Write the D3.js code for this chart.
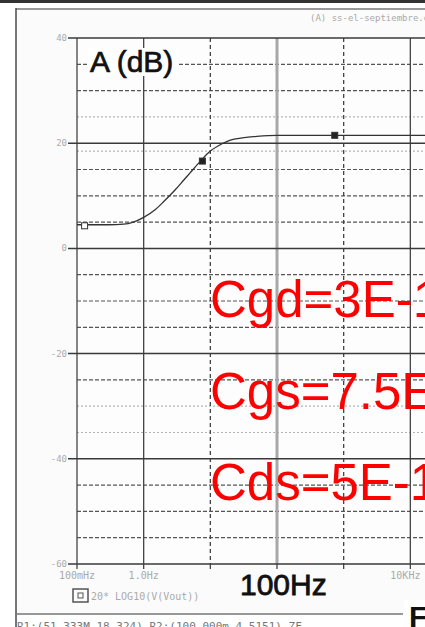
<!DOCTYPE html>
<html>
<head>
<meta charset="utf-8">
<script src="https://cdn.jsdelivr.net/npm/d3@7"></script>
<style>
  body { margin: 0; background: #fff; overflow: hidden; }
  svg { display: block; }
</style>
</head>
<body>
<div id="chart"></div>
<script>
// Trace 20*LOG10(V(Vout))
const freqs = [0.1, 0.3, 0.5, 0.7, 1, 1.5, 2, 3, 4, 5, 7, 10, 15, 20, 30, 50, 100, 1000, 10000, 100000];
const gainDb = [4.5, 4.5, 4.6, 5.0, 5.9, 7.4, 8.9, 11.2, 13.0, 14.4, 16.5, 18.5, 19.9, 20.6, 21.0, 21.3, 21.5, 21.5, 21.5, 21.5];

// trace symbols
const markerFreqs = [0.13, 7.6, 735];
const markerDb = [4.3, 16.6, 21.5];
const markerOpen = [true, false, false];

// x grid (decades)
const decadeTicks = [0.1, 1, 10, 100, 1000, 10000];
const decadeStyles = ['solid', 'solid', 'dash', 'thick', 'dash', 'solid'];
const xTickLabels = ['100mHz', '1.0Hz', '', '', '', '10KHz'];

// y grid
const majorDb = [40, 20, 0, -20, -40, -60];
const majorLabels = ['40', '20', '0', '-20', '-40', '-60'];
const minorDb = [35, 30, 25, 18.5, 15, 10, 5, -5, -10, -15, -25, -30, -35, -45, -50, -55];
const minorLight = [25, 18.5, -30, -35];

const annotations = ['Cgd=3E-12', 'Cgs=7.5E-12', 'Cds=5E-12'];

const W = 425, H = 627;
const plot = { left: 77, top: 38, bottom: 564, right: 477 };

const svg = d3.select('#chart').append('svg')
  .attr('width', W).attr('height', H)
  .attr('viewBox', `0 0 ${W} ${H}`);

const x = d3.scaleLog().domain([0.1, 100000]).range([plot.left, plot.right]);
const y = d3.scaleLinear().domain([-60, 40]).range([plot.bottom, plot.top]);

// window frame
svg.append('rect').attr('x', 0).attr('y', 0).attr('width', W).attr('height', H).attr('fill', '#fff');
svg.append('rect').attr('x', 16).attr('y', 9).attr('width', W).attr('height', 605).attr('fill', '#fbfbfb');
svg.append('line').attr('x1', 0).attr('x2', W).attr('y1', 1.5).attr('y2', 1.5)
  .attr('stroke', '#333').attr('stroke-width', 3);
svg.append('line').attr('x1', 16).attr('x2', W).attr('y1', 9).attr('y2', 9)
  .attr('stroke', '#999').attr('stroke-width', 2);
svg.append('line').attr('x1', 16).attr('x2', 16).attr('y1', 8).attr('y2', H)
  .attr('stroke', '#555').attr('stroke-width', 1.6);
svg.append('line').attr('x1', 16).attr('x2', 403).attr('y1', 614).attr('y2', 614)
  .attr('stroke', '#777').attr('stroke-width', 1.5);

svg.append('text').attr('x', 310).attr('y', 21)
  .style('font-family', 'DejaVu Sans Mono').style('font-size', '9px').attr('fill', '#aaa')
  .text('(A) ss-el-septiembre.dat (active)');

// plot background
svg.append('rect').attr('x', plot.left).attr('y', plot.top)
  .attr('width', W - plot.left).attr('height', plot.bottom - plot.top).attr('fill', '#fdfdfd');

const grid = svg.append('g');

// minor horizontal lines (5 dB)
grid.selectAll('.minor').data(minorDb).enter().append('line')
  .attr('x1', plot.left).attr('x2', W)
  .attr('y1', d => y(d)).attr('y2', d => y(d))
  .attr('stroke', d => minorLight.includes(d) ? '#b5b5b5' : '#555')
  .attr('stroke-width', 1.2)
  .attr('stroke-dasharray', d => minorLight.includes(d) ? '2,2' : '4,2');

// vertical decade lines
grid.selectAll('.vline').data(decadeTicks).enter().append('line')
  .attr('x1', d => x(d)).attr('x2', d => x(d))
  .attr('y1', plot.top).attr('y2', plot.bottom)
  .attr('stroke', (d, i) => decadeStyles[i] === 'thick' ? '#a8a8a8' : '#444')
  .attr('stroke-width', (d, i) => decadeStyles[i] === 'thick' ? 3 : 1.3)
  .attr('stroke-dasharray', (d, i) => decadeStyles[i] === 'dash' ? '4,3' : null);

// major horizontal lines + ticks
grid.selectAll('.major').data(majorDb).enter().append('line')
  .attr('x1', plot.left - 9).attr('x2', W)
  .attr('y1', d => y(d)).attr('y2', d => y(d))
  .attr('stroke', '#3a3a3a').attr('stroke-width', 1.5);

grid.selectAll('.ylab').data(majorDb).enter().append('text')
  .attr('x', plot.left - 10).attr('y', d => y(d) + 3)
  .attr('text-anchor', 'end')
  .style('font-family', 'DejaVu Sans Mono').style('font-size', '9px').attr('fill', '#aaa')
  .text((d, i) => majorLabels[i]);

// x ticks below the axis
grid.selectAll('.xtick').data(decadeTicks).enter().append('line')
  .attr('x1', d => x(d)).attr('x2', d => x(d))
  .attr('y1', plot.bottom).attr('y2', plot.bottom + 5)
  .attr('stroke', '#444').attr('stroke-width', 1.3);

grid.selectAll('.xlab').data(decadeTicks).enter().append('text')
  .attr('x', d => x(d)).attr('y', plot.bottom + 15)
  .attr('text-anchor', (d, i) => i === decadeTicks.length - 1 ? 'start' : 'middle')
  .attr('dx', (d, i) => i === decadeTicks.length - 1 ? -20 : 0)
  .style('font-family', 'DejaVu Sans Mono').style('font-size', '10px').attr('fill', '#aaa')
  .text((d, i) => xTickLabels[i]);

// trace
const line = d3.line().x(d => x(d[0])).y(d => y(d[1])).curve(d3.curveMonotoneX);
svg.append('path')
  .datum(freqs.map((f, i) => [f, gainDb[i]]))
  .attr('d', line)
  .attr('fill', 'none').attr('stroke', '#333').attr('stroke-width', 1.3);

svg.selectAll('.mark').data(markerFreqs).enter().append('rect')
  .attr('x', d => x(d) - 3).attr('y', (d, i) => y(markerDb[i]) - 3)
  .attr('width', 6).attr('height', 6)
  .attr('fill', (d, i) => markerOpen[i] ? '#fff' : '#222')
  .attr('stroke', '#333').attr('stroke-width', 1);

// legend
svg.append('rect').attr('x', 73).attr('y', 589).attr('width', 15).attr('height', 13)
  .attr('fill', 'none').attr('stroke', '#555').attr('stroke-width', 1.5);
svg.append('rect').attr('x', 78).attr('y', 593).attr('width', 5).attr('height', 5)
  .attr('fill', 'none').attr('stroke', '#555').attr('stroke-width', 1);
svg.append('text').attr('x', 91).attr('y', 600)
  .style('font-family', 'DejaVu Sans Mono').style('font-size', '10px').attr('fill', '#aaa')
  .text('20* LOG10(V(Vout))');

// cursor readout, cut by the window edge
svg.append('text').attr('x', 17).attr('y', 630)
  .style('font-family', 'DejaVu Sans Mono').style('font-size', '11px').attr('fill', '#777')
  .text('R1:(51.333M,18.324)  R2:(100.000m,4.5151)  ZF...');

// overlaid labels
svg.append('rect').attr('x', 88).attr('y', 48).attr('width', 90).attr('height', 28).attr('fill', '#fff');
svg.append('text').attr('x', 90).attr('y', 72)
  .style('font-family', 'Liberation Sans, Arial').style('font-size', '30px')
  .attr('fill', '#111').attr('stroke', '#111').attr('stroke-width', 0.7)
  .text('A (dB)');

svg.append('text').attr('x', 240).attr('y', 595)
  .style('font-family', 'Liberation Sans, Arial').style('font-size', '30px')
  .attr('fill', '#111').attr('stroke', '#111').attr('stroke-width', 0.8)
  .text('100Hz');

svg.append('rect').attr('x', 404).attr('y', 600).attr('width', 30).attr('height', 30).attr('fill', '#fff');
svg.append('text').attr('x', 409).attr('y', 627)
  .style('font-family', 'Liberation Sans, Arial').style('font-size', '30px')
  .style('font-weight', 'bold').attr('fill', '#111')
  .text('F');

svg.selectAll('.note').data(annotations).enter().append('text')
  .attr('x', 210).attr('y', (d, i) => [317, 409, 500][i])
  .style('font-family', 'Liberation Sans, Arial').style('font-size', '51px').attr('fill', '#f00')
  .text(d => d);
</script>
</body>
</html>
